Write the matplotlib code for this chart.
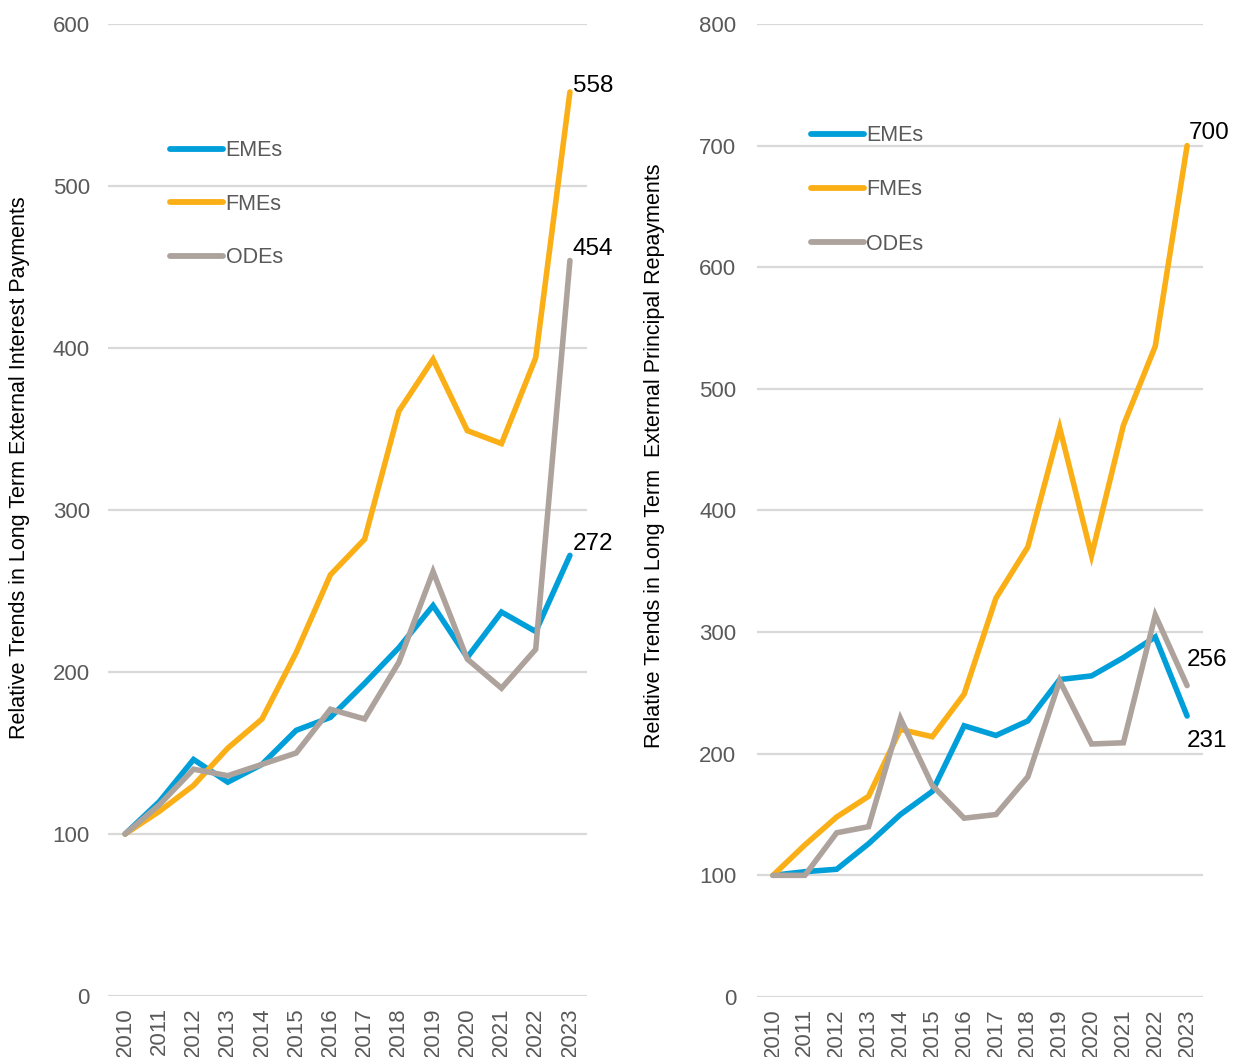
import matplotlib
matplotlib.use("Agg")
import matplotlib.pyplot as plt
from matplotlib.lines import Line2D

plt.rcParams['font.family'] = ['Liberation Sans', 'DejaVu Sans']

years = [str(y) for y in range(2010, 2024)]

# Left panel: long term external interest payments (2010 = 100)
interest_emes = [100, 120, 146, 132, 143, 164, 172, 193, 215, 241, 209, 237, 225, 272]
interest_fmes = [100, 114, 130, 153, 171, 212, 260, 282, 361, 393, 349, 341, 394, 558]
interest_odes = [100, 118, 140, 136, 143, 150, 177, 171, 206, 262, 208, 190, 214, 454]

# Right panel: long term external principal repayments (2010 = 100)
principal_emes = [100, 103, 105, 126, 150, 169, 223, 215, 227, 261, 264, 279, 296, 231]
principal_fmes = [100, 125, 148, 165, 220, 214, 249, 328, 370, 468, 363, 470, 535, 700]
principal_odes = [100, 100, 135, 140, 229, 174, 147, 150, 181, 260, 208, 209, 314, 256]

series_names = ["EMEs", "FMEs", "ODEs"]
colors = {"EMEs": "#009FDA", "FMEs": "#FBAF17", "ODEs": "#ADA39C"}

TICK_GRAY = "#595959"
GRID_GRAY = "#D9D9D9"

fig = plt.figure(figsize=(12.33, 10.57), dpi=100)
ax1 = fig.add_axes([0.0876, 0.0577, 0.3885, 0.9196])
ax2 = fig.add_axes([0.6140, 0.0568, 0.3617, 0.9205])


def style_axis(ax, ymax, ystep, ylabel, ypad):
    x = list(range(len(years)))
    ax.set_xlim(-0.5, len(years) - 0.5)
    ax.set_ylim(0, ymax)
    ax.set_yticks(range(0, ymax + 1, ystep))
    ax.set_xticks(x)
    ax.set_xticklabels(years, rotation=90, fontsize=16, color=TICK_GRAY)
    ax.tick_params(axis='y', length=0, pad=ypad, labelsize=16, labelcolor=TICK_GRAY)
    ax.tick_params(axis='x', length=0, pad=8)
    for s in ax.spines.values():
        s.set_visible(False)
    ax.grid(axis='y', color=GRID_GRAY, linewidth=1.6)
    ax.set_axisbelow(True)
    ax.set_ylabel(ylabel, fontsize=15.5, color="black")


def draw_panel(ax, data, labels):
    x = list(range(len(years)))
    for name in series_names:
        ax.plot(x, data[name], color=colors[name], linewidth=4.0,
                solid_joinstyle='miter', solid_capstyle='round', label=name,
                zorder=3 if name != "ODEs" else 4)
    for name, (dx, dy, va) in labels.items():
        v = data[name][-1]
        ax.annotate(f"{v:d}", xy=(x[-1], v), xytext=(dx, dy),
                    textcoords='offset points', ha='left', va=va,
                    fontsize=17.5, color="black")


style_axis(ax1, 600, 100, "Relative Trends in Long Term External Interest Payments", 13)
style_axis(ax2, 800, 100, "Relative Trends in Long Term  External Principal Repayments", 15)

draw_panel(ax1,
           {"EMEs": interest_emes, "FMEs": interest_fmes, "ODEs": interest_odes},
           {"FMEs": (2, 0, 'baseline'), "ODEs": (2, 4, 'baseline'),
            "EMEs": (2, 4, 'baseline')})
draw_panel(ax2,
           {"EMEs": principal_emes, "FMEs": principal_fmes, "ODEs": principal_odes},
           {"FMEs": (1, 5, 'baseline'), "ODEs": (0, 14, 'baseline'),
            "EMEs": (0, -10, 'top')})

ax1.yaxis.set_label_coords(-0.163, 0.544)
ax2.yaxis.set_label_coords(-0.206, 0.5565)


def add_legend(ax, anchor, spacing):
    handles = [Line2D([0], [0], color=colors[n], linewidth=4.2,
                      solid_capstyle='round') for n in series_names]
    leg = ax.legend(handles, series_names, loc='upper left',
                    bbox_to_anchor=anchor, frameon=False, fontsize=15.5,
                    handlelength=2.45, handletextpad=0.12, labelspacing=spacing,
                    borderaxespad=0)
    for t in leg.get_texts():
        t.set_color(TICK_GRAY)


add_legend(ax1, (0.112, 0.889), 1.5)
add_legend(ax2, (0.102, 0.905), 1.55)

fig.savefig("out.png", dpi=100, facecolor="white")
